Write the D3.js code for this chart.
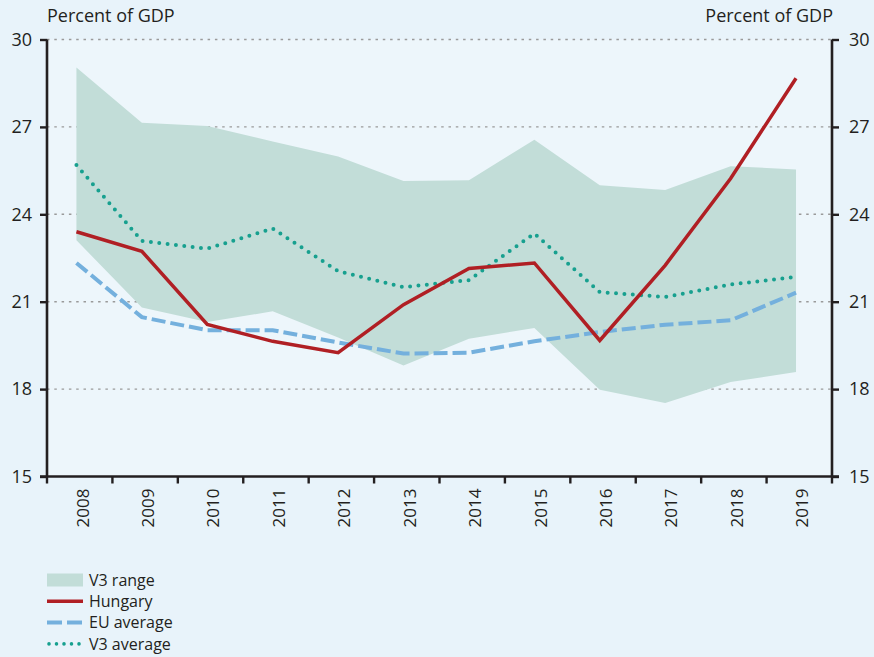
<!DOCTYPE html>
<html>
<head>
<meta charset="utf-8">
<script src="https://cdn.jsdelivr.net/npm/d3@7"></script>
<style>
  body { margin: 0; background: #e8f3fa; }
  text { font-family: "Open Sans", sans-serif; fill: #231f20; }
</style>
</head>
<body>
<div id="chart-area"></div>
<script>
/*
*    chart: Percent of GDP, Hungary vs EU vs V3
*/
var years = ["2008", "2009", "2010", "2011", "2012", "2013", "2014", "2015", "2016", "2017", "2018", "2019"];
var hungary = [23.4, 22.73, 20.22, 19.64, 19.25, 20.9, 22.14, 22.33, 19.67, 22.25, 25.23, 28.67];
var euAverage = [22.33, 20.47, 20.02, 20.02, 19.6, 19.22, 19.25, 19.64, 19.96, 20.21, 20.36, 21.31];
var v3Average = [25.69, 23.09, 22.82, 23.51, 22.05, 21.5, 21.74, 23.34, 21.33, 21.16, 21.59, 21.85];
var v3Max = [29.04, 27.14, 27.03, 26.5, 25.98, 25.14, 25.17, 26.56, 25.0, 24.83, 25.65, 25.54];
var v3Min = [23.11, 20.8, 20.3, 20.67, 19.77, 18.81, 19.73, 20.1, 17.98, 17.52, 18.24, 18.59];
var yTicks = [15, 18, 21, 24, 27, 30];
var legendItems = ["V3 range", "Hungary", "EU average", "V3 average"];

var W = 874, H = 657;
var mLeft = 47, mRight = 832, mTop = 39.5, mBottom = 476.5;

var svg = d3.select("#chart-area").append("svg")
    .attr("width", W)
    .attr("height", H);

svg.append("rect")
    .attr("width", W).attr("height", H)
    .attr("fill", "#e8f3fa");

svg.append("rect")
    .attr("x", mLeft).attr("y", mTop)
    .attr("width", mRight - mLeft).attr("height", mBottom - mTop)
    .attr("fill", "#edf6fb");

var x = d3.scaleBand().domain(years).range([mLeft, mRight]);
var y = d3.scaleLinear().domain([15, 30]).range([mBottom, mTop]);

// data points sit a bit left of the band centre
var px = (i) => x(years[i]) + x.bandwidth() * 0.45;

// grid
svg.append("g").selectAll("line")
    .data(yTicks.filter((d) => d > 15))
    .enter().append("line")
    .attr("x1", mLeft).attr("x2", mRight)
    .attr("y1", (d) => y(d)).attr("y2", (d) => y(d))
    .attr("stroke", "#9a9a9a")
    .attr("stroke-width", 1.4)
    .attr("stroke-dasharray", "2.5 4.8");

// V3 range band
var area = d3.area()
    .x((d, i) => px(i))
    .y0((d, i) => y(v3Min[i]))
    .y1((d) => y(d));

svg.append("path")
    .datum(v3Max)
    .attr("d", area)
    .attr("fill", "#c2ddd8");

var line = d3.line()
    .x((d, i) => px(i))
    .y((d) => y(d));

svg.append("path")
    .datum(euAverage)
    .attr("d", line)
    .attr("fill", "none")
    .attr("stroke", "#74b0dd")
    .attr("stroke-width", 4)
    .attr("stroke-dasharray", "14 5");

svg.append("path")
    .datum(v3Average)
    .attr("d", line)
    .attr("fill", "none")
    .attr("stroke", "#17a08f")
    .attr("stroke-width", 4)
    .attr("stroke-linecap", "round")
    .attr("stroke-dasharray", "0 8.4");

svg.append("path")
    .datum(hungary)
    .attr("d", line)
    .attr("fill", "none")
    .attr("stroke", "#b01f24")
    .attr("stroke-width", 3.5)
    .attr("stroke-linejoin", "miter");

// axes
var yLeft = svg.append("g")
    .attr("transform", "translate(" + mLeft + ",0)")
    .call(d3.axisLeft(y).tickValues(yTicks).tickSize(7).tickPadding(8));
var yRight = svg.append("g")
    .attr("transform", "translate(" + mRight + ",0)")
    .call(d3.axisRight(y).tickValues(yTicks).tickSize(7).tickPadding(10));

[yLeft, yRight].forEach((g) => {
    g.select(".domain").attr("stroke", "#231f20").attr("stroke-width", 2.6)
        .attr("d", "M0," + mTop + "V" + mBottom);
    g.selectAll(".tick line").attr("stroke", "#231f20").attr("stroke-width", 2.4);
    g.selectAll(".tick text").attr("font-size", 18).attr("fill", "#231f20")
        .attr("font-family", "Open Sans, sans-serif");
});

// bottom axis line + boundary ticks
svg.append("line")
    .attr("x1", mLeft - 7).attr("x2", mRight + 7)
    .attr("y1", mBottom).attr("y2", mBottom)
    .attr("stroke", "#231f20").attr("stroke-width", 2.6);

svg.append("g").selectAll("line")
    .data(years.concat(["end"]))
    .enter().append("line")
    .attr("x1", (d, i) => mLeft + i * x.bandwidth())
    .attr("x2", (d, i) => mLeft + i * x.bandwidth())
    .attr("y1", mBottom).attr("y2", mBottom + 7)
    .attr("stroke", "#231f20").attr("stroke-width", 2.4);

svg.append("g").selectAll("text")
    .data(years)
    .enter().append("text")
    .attr("transform", (d) => "translate(" + (x(d) + x.bandwidth() / 2 + 3) + "," + (mBottom + 12) + ") rotate(-90)")
    .attr("dy", "0.35em")
    .attr("text-anchor", "end")
    .attr("font-size", 17)
    .text((d) => d);

// unit labels
svg.append("text")
    .attr("x", mLeft).attr("y", 21.5)
    .attr("font-size", 18)
    .text("Percent of GDP");
svg.append("text")
    .attr("x", mRight + 1).attr("y", 21.5)
    .attr("text-anchor", "end")
    .attr("font-size", 18)
    .text("Percent of GDP");

// legend
var legend = svg.append("g").attr("transform", "translate(47,580)");
var rows = legend.selectAll("g").data(legendItems)
    .enter().append("g")
    .attr("transform", (d, i) => "translate(0," + (i * 21.3) + ")");

rows.each(function (d, i) {
    var g = d3.select(this);
    if (i === 0) {
        g.append("rect").attr("x", 0).attr("y", -6.5).attr("width", 36).attr("height", 13)
            .attr("fill", "#c2ddd8");
    } else if (i === 1) {
        g.append("line").attr("x1", 0).attr("x2", 36).attr("stroke", "#b01f24").attr("stroke-width", 3.5);
    } else if (i === 2) {
        g.append("line").attr("x1", 0).attr("x2", 36).attr("stroke", "#74b0dd").attr("stroke-width", 4)
            .attr("stroke-dasharray", "15 5");
    } else {
        g.append("line").attr("x1", 2).attr("x2", 36).attr("stroke", "#17a08f").attr("stroke-width", 3.6)
            .attr("stroke-linecap", "round").attr("stroke-dasharray", "0 7.5");
    }
    g.append("text").attr("x", 42).attr("dy", "0.35em").attr("font-size", 16).text(d);
});
</script>
</body>
</html>
